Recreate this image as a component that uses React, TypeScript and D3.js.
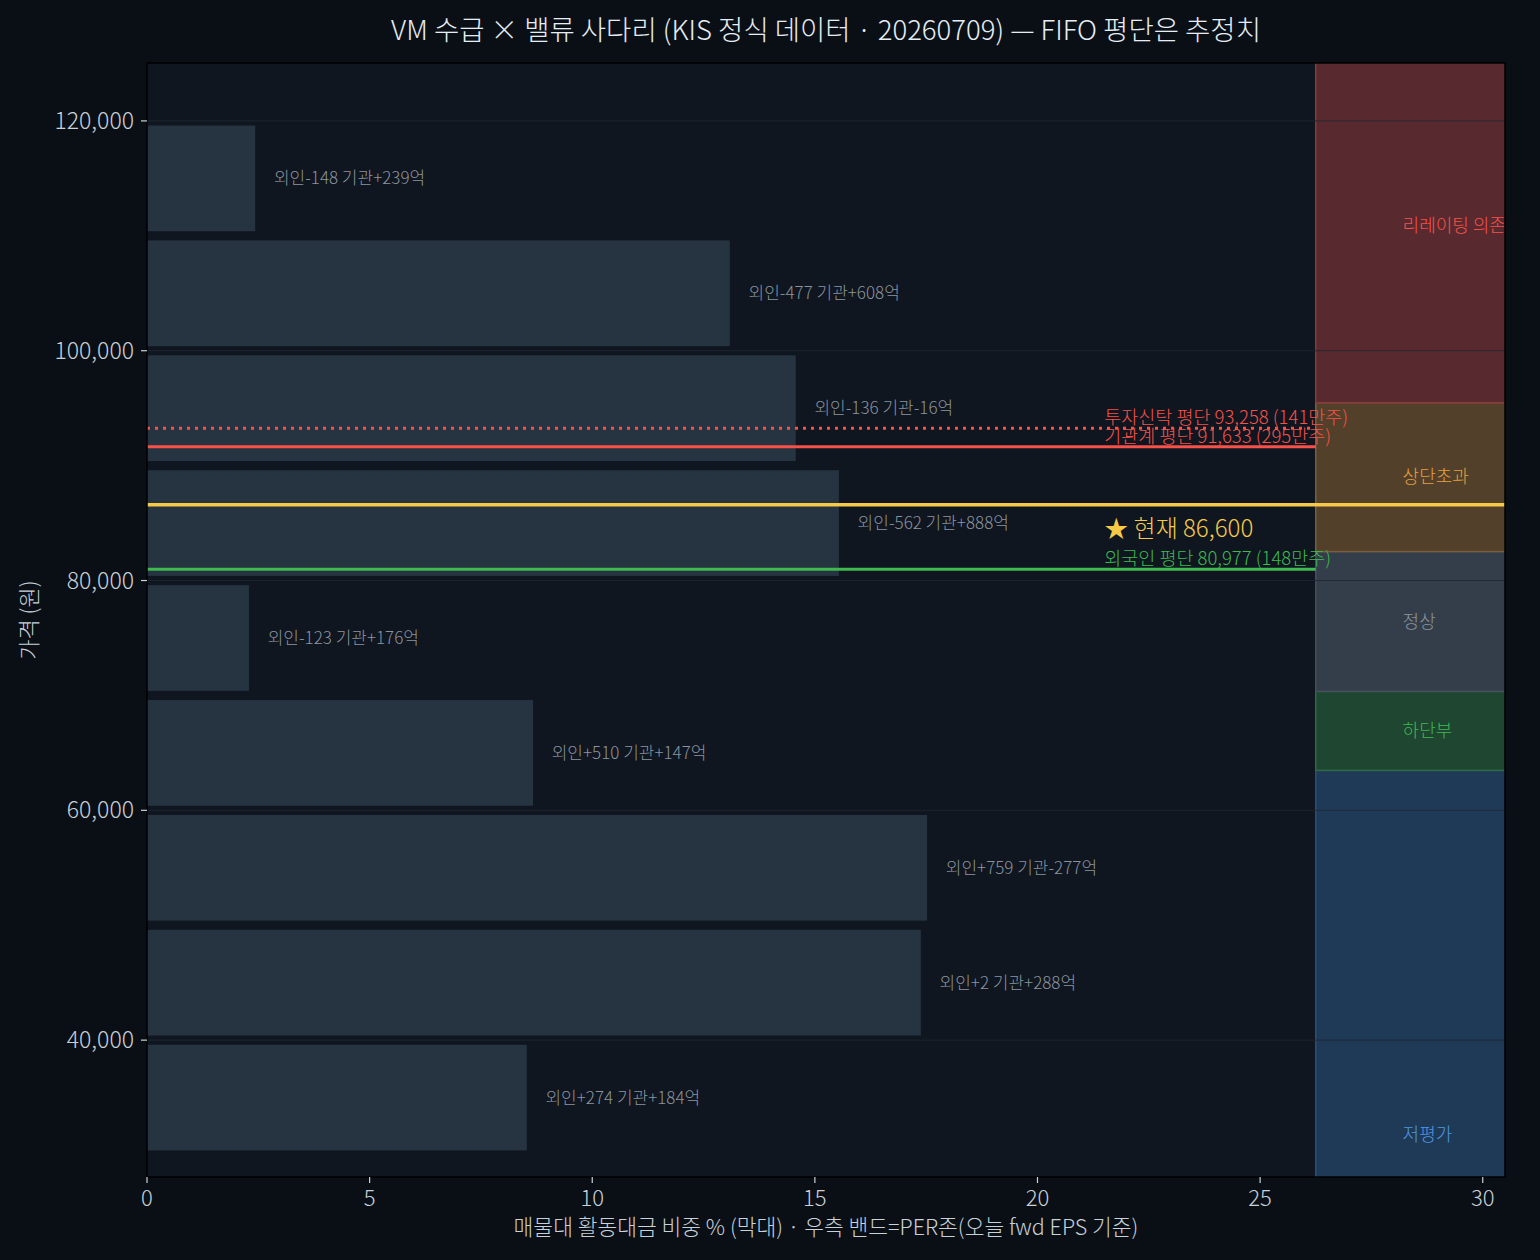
import * as d3 from 'd3';

// 매물대 가격 구간(중앙값), 활동대금 비중 %, 외인/기관 순매수(억)
const binPrices = [115000, 105000, 95000, 85000, 75000, 65000, 55000, 45000, 35000];
const binShare = [2.43, 13.09, 14.57, 15.54, 2.29, 8.67, 17.52, 17.38, 8.53];
const foreignNet = [-148, -477, -136, -562, -123, 510, 759, 2, 274];
const instNet = [239, 608, -16, 888, 176, 147, -277, 288, 184];
const binWidth = 10000;

// FIFO 평단 (추정)
const avgNames = ['투자신탁', '기관계', '외국인'];
const avgPrices = [93258, 91633, 80977];
const avgShares = [141, 295, 148];
const currentPrice = 86600;

// PER 존 밴드
const bandNames = ['저평가', '하단부', '정상', '상단초과', '리레이팅 의존'];
const bandLo = [0, 63480, 70350, 82520, 95480];
const bandHi = [63480, 70350, 82520, 95480, 126260];

const yTicks = [40000, 60000, 80000, 100000, 120000];
const xTicks = [0, 5, 10, 15, 20, 25, 30];

const W = 1540;
const H = 1260;
const m = { left: 147, right: 35, top: 63, bottom: 83 };
const FONT = '"Noto Sans CJK KR", "Noto Sans", sans-serif';

const bandFill = ['#1f3a57', '#1e4630', '#343e4a', '#53402a', '#582a2f'];
const bandEdge = ['#2b5273', '#2f6b45', '#465160', '#7a6040', '#8a3a3a'];
const bandText = ['#4f96e0', '#3fb950', '#8b949e', '#e3a040', '#f85149'];
const avgColors = ['#f85149', '#f85149', '#3fb950'];
const avgDash = ['3,5', undefined, undefined];
const yellow = '#f7c948';

const fmt = d3.format(',');
const sgn = (v: number) => (v >= 0 ? `+${v}` : `-${Math.abs(v)}`);

export default function App() {
  const x = d3.scaleLinear().domain([0, 30.5]).range([m.left, W - m.right]);
  const y = d3.scaleLinear().domain([28090, 125040]).range([H - m.bottom, m.top]);
  const bandStart = 26.25;
  const labelX = 21.5;

  const x0 = x(0);
  const x1 = x.range()[1];
  const yTop = m.top;
  const yBot = H - m.bottom;

  return (
    <div style={{ position: 'absolute', left: 0, top: 0 }}>
      <svg width={W} height={H} style={{ display: 'block', fontFamily: FONT, fontWeight: 300 }}>
        <defs>
          <clipPath id="plot-clip">
            <rect x={x0} y={yTop} width={x1 - x0} height={yBot - yTop} />
          </clipPath>
        </defs>
        <rect width={W} height={H} fill="#0a0f16" />
        <rect x={x0} y={yTop} width={x1 - x0} height={yBot - yTop} fill="#0f1620" />

        <g clipPath="url(#plot-clip)">
          {/* PER 밴드 */}
          {bandNames.map((name, i) => (
            <rect
              key={name}
              x={x(bandStart)}
              y={y(bandHi[i])}
              width={x1 - x(bandStart) + 2}
              height={y(bandLo[i]) - y(bandHi[i])}
              fill={bandFill[i]}
              stroke={bandEdge[i]}
              strokeWidth={1.5}
            />
          ))}

          {/* grid */}
          {yTicks.map((t) => (
            <line key={t} x1={x0} x2={x1} y1={y(t)} y2={y(t)} stroke="#1f2731" strokeOpacity={0.85} strokeWidth={1} />
          ))}

          {/* 매물대 막대 */}
          {binPrices.map((p, i) => (
            <rect
              key={p}
              x={x0}
              y={y(p + binWidth * 0.46)}
              width={x(binShare[i]) - x0}
              height={y(p - binWidth * 0.46) - y(p + binWidth * 0.46)}
              fill="#263341"
            />
          ))}
          {binPrices.map((p, i) => (
            <text
              key={`l${p}`}
              x={x(binShare[i] + 0.42)}
              y={y(p)}
              dy="0.35em"
              fontSize={17}
              fill="#8b949e"
            >
              {`외인${sgn(foreignNet[i])} 기관${sgn(instNet[i])}억`}
            </text>
          ))}

          {bandNames.map((name, i) => (
            <text
              key={`b${name}`}
              x={x(28.2)}
              y={y((bandLo[i] + bandHi[i]) / 2)}
              dy="0.35em"
              fontSize={18}
              fill={bandText[i]}
            >
              {name}
            </text>
          ))}

          {/* 평단 라인 */}
          {avgNames.map((name, i) => (
            <g key={name}>
              <line
                x1={x0}
                x2={x(bandStart)}
                y1={y(avgPrices[i])}
                y2={y(avgPrices[i])}
                stroke={avgColors[i]}
                strokeWidth={3}
                strokeDasharray={avgDash[i]}
              />
              <text x={x(labelX)} y={y(avgPrices[i]) - 4} fontSize={18.5} fill={avgColors[i]}>
                {`${name} 평단 ${fmt(avgPrices[i])} (${avgShares[i]}만주)`}
              </text>
            </g>
          ))}

          <line x1={x0} x2={x1} y1={y(currentPrice)} y2={y(currentPrice)} stroke={yellow} strokeWidth={3.5} />
          <text x={x(labelX)} y={y(currentPrice) + 32} fontSize={24} fill={yellow}>
            {`★ 현재 ${fmt(currentPrice)}`}
          </text>
        </g>

        <rect x={x0} y={yTop} width={x1 - x0} height={yBot - yTop} fill="none" stroke="#000" strokeWidth={1.5} />

        {/* y축 */}
        {yTicks.map((t) => (
          <g key={t}>
            <line x1={x0 - 6} x2={x0} y1={y(t)} y2={y(t)} stroke="#c9d1d9" strokeWidth={1.2} />
            <text x={x0 - 13} y={y(t)} dy="0.35em" textAnchor="end" fontSize={23} fill="#c9d1d9">
              {fmt(t)}
            </text>
          </g>
        ))}
        {/* x축 */}
        {xTicks.map((t) => (
          <g key={t}>
            <line x1={x(t)} x2={x(t)} y1={yBot} y2={yBot + 6} stroke="#c9d1d9" strokeWidth={1.2} />
            <text x={x(t)} y={yBot + 29} textAnchor="middle" fontSize={22} fill="#c9d1d9">
              {t}
            </text>
          </g>
        ))}

        <text x={(x0 + x1) / 2} y={1235} textAnchor="middle" fontSize={21.5} fill="#c9d1d9">
          매물대 활동대금 비중 % (막대) · 우측 밴드=PER존(오늘 fwd EPS 기준)
        </text>
        <text
          transform={`translate(37, ${(yTop + yBot) / 2}) rotate(-90)`}
          textAnchor="middle"
          fontSize={22}
          fill="#c9d1d9"
        >
          가격 (원)
        </text>
        <text x={(x0 + x1) / 2} y={40} textAnchor="middle" fontSize={27.5} fill="#e6edf3">
          VM 수급 × 밸류 사다리 (KIS 정식 데이터 · 20260709) — FIFO 평단은 추정치
        </text>
      </svg>
    </div>
  );
}
